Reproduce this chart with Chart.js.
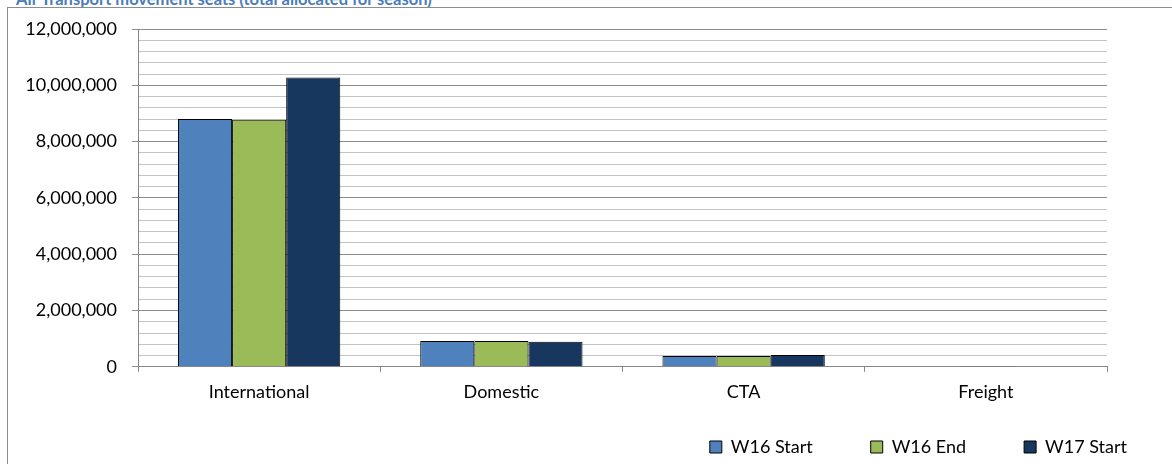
<!DOCTYPE html>
<html>
<head>
<meta charset="utf-8">
<script src="https://cdn.jsdelivr.net/npm/chart.js@4"></script>
<style>
  html, body { margin: 0; padding: 0; background: #ffffff; overflow: hidden; width: 1172px; height: 464px; }
  #title { position: absolute; left: 16px; top: -9px; font-family: Lato, "Open Sans", sans-serif; font-weight: bold; font-size: 16.5px; line-height: 16.5px; color: #4A7CBA; white-space: nowrap; }
  #frame { position: absolute; left: 7px; top: 7px; width: 1300px; height: 600px; border: 1px solid #8c8c8c; }
  #wrap { position: absolute; left: 0; top: 0; width: 1200px; height: 466px; }
</style>
</head>
<body>
<div id="title">Air Transport movement seats (total allocated for season)</div>
<div id="frame"></div>
<div id="wrap"><canvas id="c" width="1200" height="466"></canvas></div>
<script>
const categories = ['International', 'Domestic', 'CTA', 'Freight'];
const seriesNames = ['W16 Start', 'W16 End', 'W17 Start'];
const w16Start = [8800000, 920000, 380000, 0];
const w16End = [8780000, 920000, 380000, 30000];
const w17Start = [10280000, 890000, 420000, 0];
const yMin = 0;
const yMax = 12000000;
const yStep = 400000;
const yLabelStep = 2000000;

const colors = ['#4F81BD', '#9BBB59', '#17375E'];
const FONT = 'Lato, "Open Sans", sans-serif';

const chart = new Chart(document.getElementById('c'), {
  type: 'bar',
  data: {
    labels: categories,
    datasets: [w16Start, w16End, w17Start].map((vals, i) => ({
      label: seriesNames[i],
      data: vals,
      backgroundColor: colors[i],
      borderColor: '#000000',
      borderWidth: 1,
      categoryPercentage: 0.67,
      barPercentage: 1.0
    }))
  },
  options: {
    responsive: false,
    animation: false,
    devicePixelRatio: 1,
    layout: { padding: { top: 29, right: 15, bottom: 0, left: 0 } },
    plugins: {
      title: { display: false },
      tooltip: { enabled: false },
      legend: {
        position: 'bottom',
        align: 'end',
        title: { display: true, text: '', font: { size: 1 }, padding: { top: -50, bottom: 0 } },
        labels: {
          font: { family: FONT, size: 18 },
          color: '#000000',
          boxWidth: 12,
          boxHeight: 12,
          padding: 58
        }
      }
    },
    scales: {
      x: {
        grid: { display: true, drawOnChartArea: false, offset: true, tickLength: 5, color: '#868686', tickColor: '#868686' },
        border: { display: true, color: '#868686', width: 1 },
        ticks: { font: { family: FONT, size: 18 }, color: '#000000', padding: 10, maxRotation: 0, autoSkip: false },
        afterFit: s => { s.height = 62; }
      },
      y: {
        min: yMin,
        max: yMax,
        grid: {
          color: ctx => (Math.round(ctx.tick.value) % yLabelStep === 0 ? '#8c8c8c' : '#c4c4c4'),
          tickColor: ctx => (Math.round(ctx.tick.value) % yLabelStep === 0 ? '#8c8c8c' : 'rgba(0,0,0,0)'),
          tickLength: 6,
          lineWidth: 1
        },
        border: { display: true, color: '#868686', width: 1 },
        ticks: {
          stepSize: yStep,
          autoSkip: false,
          padding: 15,
          font: { family: FONT, size: 18 },
          color: '#000000',
          callback: v => (Math.round(v) % yLabelStep === 0 ? Math.round(v).toLocaleString('en-US') : '')
        },
        afterFit: s => { s.width = 138; }
      },
      y2: {
        position: 'right',
        display: true,
        grid: { display: false, drawOnChartArea: false },
        border: { display: false },
        ticks: { display: false },
        afterFit: s => { s.width = 78; }
      }
    }
  }
});
</script>
</body>
</html>
